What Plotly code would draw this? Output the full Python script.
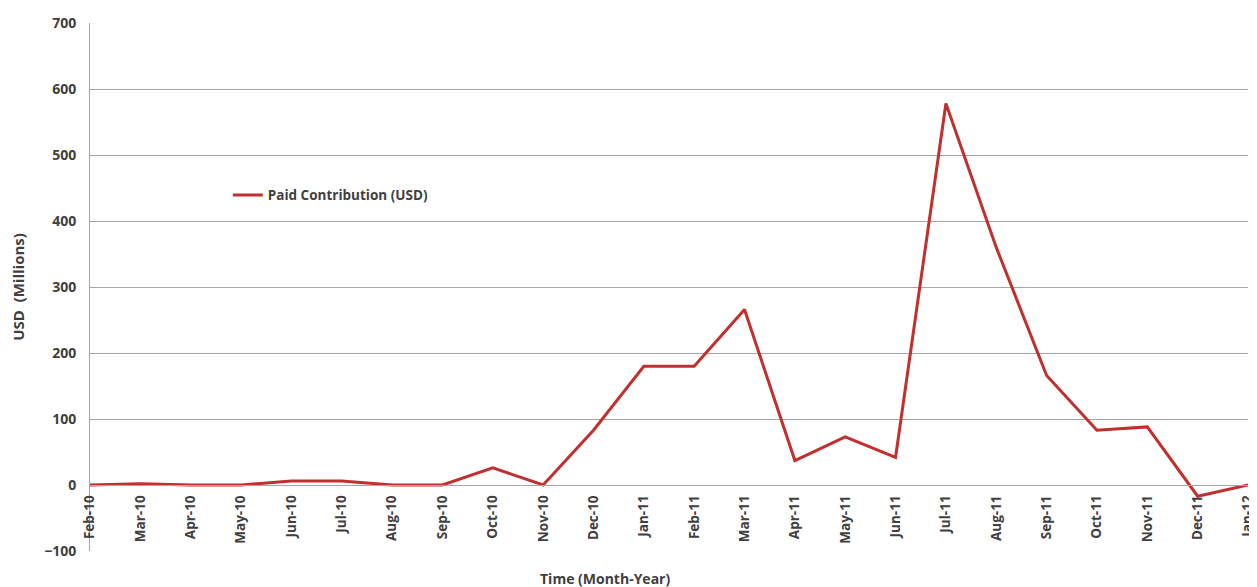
import plotly.graph_objects as go

months = ["Feb-10", "Mar-10", "Apr-10", "May-10", "Jun-10", "Jul-10", "Aug-10", "Sep-10",
          "Oct-10", "Nov-10", "Dec-10", "Jan-11", "Feb-11", "Mar-11", "Apr-11", "May-11",
          "Jun-11", "Jul-11", "Aug-11", "Sep-11", "Oct-11", "Nov-11", "Dec-11", "Jan-12"]
paid = [0, 2, 0, 0, 6, 6, 0, 0,
        26, 0, 83, 180, 180, 266, 37, 73,
        42, 578, 360, 166, 83, 88, -17, 0]

y_ticks = [-100, 0, 100, 200, 300, 400, 500, 600, 700]

FONT = "Open Sans"
GRID = "#a6a6a6"
TXT = "#404040"

fig = go.Figure()
fig.add_trace(go.Scatter(
    x=months, y=paid, mode="lines", name="Paid Contribution (USD)",
    line=dict(color="#c0302e", width=3), cliponaxis=False,
))

fig.update_layout(
    width=1249, height=579,
    margin=dict(l=82, r=9, t=15, b=36),
    paper_bgcolor="white", plot_bgcolor="white",
    font=dict(family=FONT, color=TXT),
    showlegend=True,
    legend=dict(x=0.119, y=0.674, xanchor="left", yanchor="middle",
                bgcolor="rgba(0,0,0,0)",
                font=dict(size=13.5, color=TXT, family=FONT, weight="bold"),
                itemwidth=30),
    xaxis=dict(
        type="category", range=[0, len(months) - 1],
        anchor="free", position=0.125,
        showgrid=False, showline=True, linecolor=GRID, linewidth=1,
        tickangle=-90, tickfont=dict(size=13.5, color=TXT, family=FONT, weight="bold"),
        ticklabelstandoff=4,
        ticks="", zeroline=False, automargin=False,
    ),
    yaxis=dict(
        range=[-100, 700], tickvals=y_ticks,
        showgrid=True, gridcolor=GRID, gridwidth=1,
        showline=True, linecolor=GRID, linewidth=1, mirror=False,
        zeroline=False,
        tickfont=dict(size=14, color=TXT, family=FONT, weight="bold"),
        ticklabelstandoff=10,
        title=dict(text="USD  (Millions)", font=dict(size=15, color=TXT, family=FONT, weight="bold"),
                   standoff=22),
        automargin=False,
    ),
)

fig.add_annotation(
    text="Time (Month-Year)", xref="paper", yref="paper", x=0.445, y=-0.052,
    xanchor="center", yanchor="middle", showarrow=False,
    font=dict(size=14, color=TXT, family=FONT, weight="bold"),
)

fig.write_html("out.html")
